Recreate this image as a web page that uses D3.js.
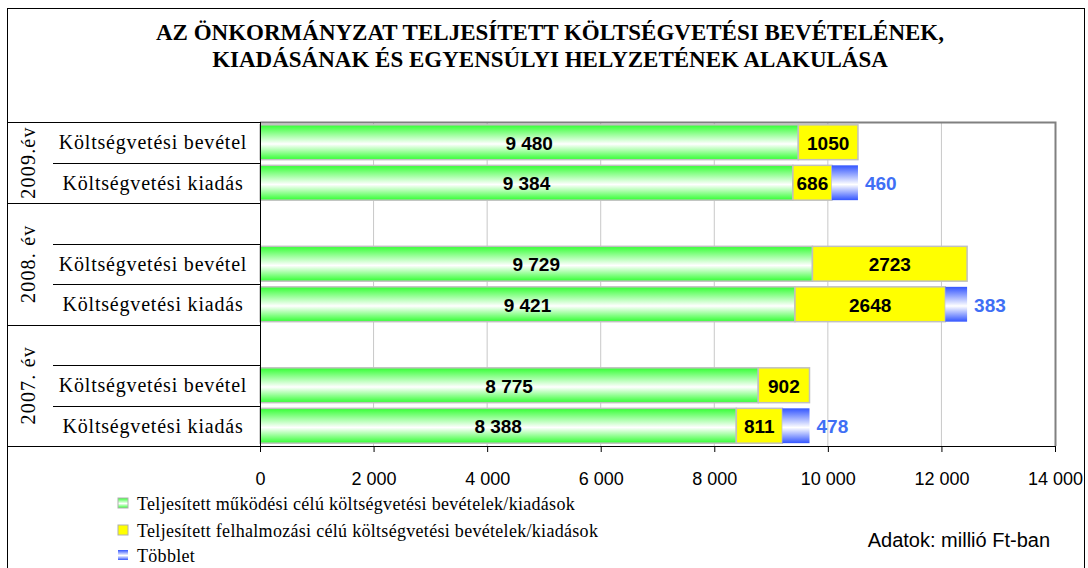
<!DOCTYPE html>
<html>
<head>
<meta charset="utf-8">
<script src="https://cdn.jsdelivr.net/npm/d3@7"></script>
<style>
  body { margin: 0; background: #fff; }
  svg { display: block; }
</style>
</head>
<body>
<div id="chart"></div>
<script>
// Rows from top to bottom (multi-level category axis)
const rowYears = ['2009.év', '2009.év', '2008. év', '2008. év', '2008. év', '2007. év', '2007. év', '2007. év'];
const rowLabels = ['Költségvetési bevétel', 'Költségvetési kiadás', '', 'Költségvetési bevétel', 'Költségvetési kiadás', '', 'Költségvetési bevétel', 'Költségvetési kiadás'];
const mukodesi = [9480, 9384, 0, 9729, 9421, 0, 8775, 8388];
const felhalmozasi = [1050, 686, 0, 2723, 2648, 0, 902, 811];
const tobblet = [0, 460, 0, 0, 383, 0, 0, 478];
const xTicks = [0, 2000, 4000, 6000, 8000, 10000, 12000, 14000];
const legendLabels = [
    'Teljesített működési célú költségvetési bevételek/kiadások',
    'Teljesített felhalmozási célú költségvetési bevételek/kiadások',
    'Többlet'
];
const titleLines = [
    'AZ ÖNKORMÁNYZAT TELJESÍTETT KÖLTSÉGVETÉSI BEVÉTELÉNEK,',
    'KIADÁSÁNAK ÉS EGYENSÚLYI HELYZETÉNEK ALAKULÁSA'
];

const width = 1088, height = 568;
const plot = { left: 260, right: 1055, top: 122, bottom: 446 };
const serif = '"Liberation Serif", "Times New Roman", serif';
const sans = '"Liberation Sans", Arial, sans-serif';

const svg = d3.select('#chart').append('svg')
    .attr('width', width).attr('height', height);

// gradients
const defs = svg.append('defs');
function vGrad(id, color) {
    const g = defs.append('linearGradient').attr('id', id)
        .attr('x1', 0).attr('y1', 0).attr('x2', 0).attr('y2', 1);
    g.append('stop').attr('offset', '0%').attr('stop-color', color);
    g.append('stop').attr('offset', '55%').attr('stop-color', '#ffffff');
    g.append('stop').attr('offset', '100%').attr('stop-color', color);
}
vGrad('gGreen', '#33ff33');
vGrad('gBlue', '#3355ff');

// outer frame
svg.append('rect')
    .attr('x', 7.5).attr('y', 8.5)
    .attr('width', 1077).attr('height', 580)
    .attr('fill', '#fff').attr('stroke', '#000').attr('stroke-width', 1);

// title
svg.append('g').selectAll('text')
    .data(titleLines)
    .join('text')
    .attr('x', 550)
    .attr('y', (d, i) => 40 + i * 27)
    .attr('text-anchor', 'middle')
    .attr('font-family', serif)
    .attr('font-weight', 'bold')
    .attr('font-size', 23)
    .text(d => d);

// scales
const x = d3.scaleLinear().domain([0, 14000]).range([plot.left, plot.right]);
const y = d3.scaleBand().domain(d3.range(rowLabels.length)).range([plot.top, plot.bottom]).paddingInner(0).paddingOuter(0);
const barH = y.bandwidth() * 0.86;
const barOff = (y.bandwidth() - barH) / 2;

// gridlines
svg.append('g')
    .selectAll('line')
    .data(xTicks.filter(t => t > 0 && t < 14000))
    .join('line')
    .attr('x1', d => x(d)).attr('x2', d => x(d))
    .attr('y1', plot.top).attr('y2', plot.bottom)
    .attr('stroke', '#c8c8c8').attr('stroke-width', 1);

// plot border (top + right)
svg.append('path')
    .attr('d', `M${plot.left},${plot.top + 0.5}H${plot.right + 0.5}V${plot.bottom}`)
    .attr('fill', 'none').attr('stroke', '#808080').attr('stroke-width', 2);

// stacked data
const rows = rowLabels.map((label, i) => ({ i, mukodesi: mukodesi[i], felhalmozasi: felhalmozasi[i], tobblet: tobblet[i] }));
const keys = ['mukodesi', 'felhalmozasi', 'tobblet'];
const fills = { mukodesi: 'url(#gGreen)', felhalmozasi: '#ffff00', tobblet: 'url(#gBlue)' };
const stack = d3.stack().keys(keys)(rows);

svg.append('g')
    .selectAll('g')
    .data(stack)
    .join('g')
    .attr('fill', d => fills[d.key])
    .attr('stroke', d => d.key === 'tobblet' ? 'none' : '#c0c0c0')
    .attr('stroke-width', 1.5)
    .selectAll('rect')
    .data(d => d.filter(s => s[1] - s[0] > 0))
    .join('rect')
    .attr('x', d => x(d[0]))
    .attr('y', d => y(d.data.i) + barOff)
    .attr('width', d => x(d[1]) - x(d[0]))
    .attr('height', barH);

// value labels
const fmtSpace = v => d3.format(',')(v).replace(/,/g, ' ');
const labels = svg.append('g')
    .attr('font-family', sans)
    .attr('font-weight', 'bold')
    .attr('font-size', 19)
    .attr('dominant-baseline', 'central');

stack.forEach(layer => {
    layer.filter(s => s[1] - s[0] > 0).forEach(s => {
        const cy = y(s.data.i) + y.bandwidth() / 2 + 1;
        if (layer.key === 'tobblet') {
            labels.append('text')
                .attr('x', x(s[1]) + 7).attr('y', cy)
                .attr('fill', '#3f6ff5')
                .text(s[1] - s[0]);
        } else {
            labels.append('text')
                .attr('x', (x(s[0]) + x(s[1])) / 2).attr('y', cy)
                .attr('text-anchor', 'middle')
                .attr('fill', '#000')
                .text(layer.key === 'mukodesi' ? fmtSpace(s[1] - s[0]) : (s[1] - s[0]));
        }
    });
});

// x axis
const xAxis = svg.append('g')
    .attr('transform', `translate(0,${plot.bottom})`)
    .call(d3.axisBottom(x).tickValues(xTicks).tickSize(6).tickSizeOuter(0).tickPadding(20).tickFormat(fmtSpace));
xAxis.select('.domain').attr('stroke', '#000');
xAxis.selectAll('.tick line').attr('stroke', '#000');
xAxis.selectAll('.tick text')
    .attr('font-family', sans).attr('font-size', 18).attr('fill', '#000');

// category axis (multi-level)
const catAxis = svg.append('g').attr('stroke', '#000').attr('stroke-width', 1);
catAxis.append('line')
    .attr('x1', plot.left + 0.5).attr('x2', plot.left + 0.5)
    .attr('y1', plot.top).attr('y2', plot.bottom + 6);

// group boundaries
const groups = d3.groups(rowYears.map((yr, i) => ({ yr, i })), d => d.yr)
    .map(([yr, items]) => ({ yr, start: y(items[0].i), end: y(items[items.length - 1].i) + y.bandwidth() }));

catAxis.selectAll('line.grp')
    .data([plot.top, ...groups.map(g => g.end)])
    .join('line')
    .attr('class', 'grp')
    .attr('x1', 7).attr('x2', plot.left)
    .attr('y1', d => Math.round(d) + 0.5).attr('y2', d => Math.round(d) + 0.5);

// sub boundaries (top of each labelled row, except top of group 1)
const subLines = rowLabels.map((l, i) => i)
    .filter(i => rowLabels[i] !== '' && i > 0 && rowYears[i - 1] === rowYears[i]);
catAxis.selectAll('line.sub')
    .data(subLines)
    .join('line')
    .attr('class', 'sub')
    .attr('x1', 53).attr('x2', plot.left)
    .attr('y1', d => Math.round(y(d)) + 0.5).attr('y2', d => Math.round(y(d)) + 0.5);

svg.append('g')
    .attr('font-family', serif).attr('font-size', 20)
    .selectAll('text')
    .data(rowLabels.map((l, i) => ({ l, i })).filter(d => d.l !== ''))
    .join('text')
    .attr('x', 153)
    .attr('y', d => y(d.i) + y.bandwidth() / 2)
    .attr('text-anchor', 'middle')
    .attr('dominant-baseline', 'central')
    .attr('letter-spacing', 0.8)
    .text(d => d.l);

svg.append('g')
    .attr('font-family', serif).attr('font-size', 20)
    .selectAll('text')
    .data(groups)
    .join('text')
    .attr('transform', d => `translate(28,${(d.start + d.end) / 2}) rotate(-90)`)
    .attr('text-anchor', 'middle')
    .attr('dominant-baseline', 'central')
    .attr('letter-spacing', 1.2)
    .text(d => d.yr);

// legend
const legend = svg.append('g').attr('font-family', serif).attr('font-size', 18);
const legendY = [510, 537, 562];
const legendFill = ['url(#gGreen)', '#ffff00', 'url(#gBlue)'];
legendLabels.forEach((t, i) => {
    legend.append('rect')
        .attr('x', 118).attr('y', legendY[i] - 12)
        .attr('width', 10).attr('height', 10)
        .attr('fill', legendFill[i])
        .attr('stroke', i < 2 ? '#b0b0b0' : 'none');
    legend.append('text')
        .attr('x', 137).attr('y', legendY[i])
        .attr('letter-spacing', 0.3)
        .text(t);
});

svg.append('text')
    .attr('x', 1050).attr('y', 547)
    .attr('text-anchor', 'end')
    .attr('font-family', sans).attr('font-size', 20)
    .text('Adatok: millió Ft-ban');
</script>
</body>
</html>
